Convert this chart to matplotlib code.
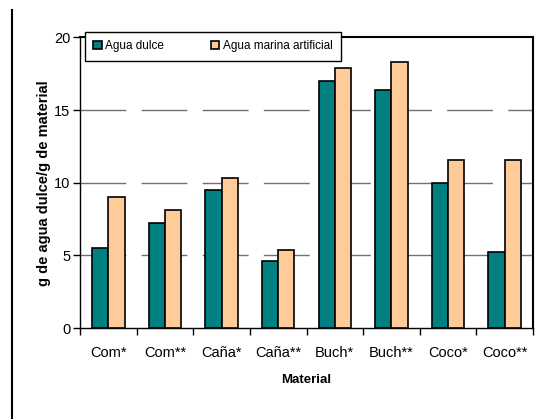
import numpy as np
import matplotlib.pyplot as plt
from matplotlib.lines import Line2D

# data
materials = ["Com*", "Com**", "Caña*", "Caña**", "Buch*", "Buch**", "Coco*", "Coco**"]
agua_dulce = [5.5, 7.2, 9.5, 4.6, 17.0, 16.4, 10.0, 5.2]
agua_marina = [9.0, 8.1, 10.3, 5.4, 17.9, 18.3, 11.55, 11.6]
series_names = ["Agua dulce", "Agua marina artificial"]
y_ticks = [0, 5, 10, 15, 20]

fonts = ['Liberation Sans Narrow', 'Liberation Sans', 'DejaVu Sans']
plt.rcParams['font.family'] = fonts

fig = plt.figure(figsize=(5.42, 4.19), dpi=100)
ax = fig.add_axes([80 / 542, 91 / 419, 453 / 542, 290.5 / 419])

x = np.arange(len(materials))
w = 0.288
ax.bar(x - w / 2, agua_dulce, w, color='#008080', edgecolor='black', linewidth=1.2,
       label=series_names[0], zorder=3)
ax.bar(x + w / 2, agua_marina, w, color='#FFCC99', edgecolor='black', linewidth=1.2,
       label=series_names[1], zorder=3)

ax.set_xlim(-0.5, len(materials) - 0.5)
ax.set_ylim(0, 20)
ax.set_yticks(y_ticks)
ax.set_yticklabels([str(t) for t in y_ticks], fontsize=10.5)
ax.set_xticks(x)
ax.set_xticklabels(materials, fontsize=10.5)
ax.tick_params(axis='x', length=0, pad=13)
ax.set_xticks(np.arange(len(materials) + 1) - 0.5, minor=True)
ax.tick_params(axis='x', which='minor', length=5, width=1, direction='out')
ax.tick_params(axis='y', length=5, width=1, direction='out', pad=2)

for v in y_ticks[1:-1]:
    ax.axhline(v, color='#707070', linewidth=1, dashes=(33, 11), zorder=1)

for s in ax.spines.values():
    s.set_color('black')
    s.set_linewidth(1)
ax.spines['top'].set_linewidth(1.5)
ax.spines['right'].set_linewidth(1.5)

ax.set_ylabel("g de agua dulce/g de material", fontsize=10.5, fontweight='bold', labelpad=2)
ax.set_xlabel("Material", fontsize=9.5, fontweight='bold', labelpad=10)

leg = ax.legend(loc='upper left', bbox_to_anchor=(85 / 542, 1 - 32 / 419),
                bbox_transform=fig.transFigure, ncol=2, fontsize=8.5,
                fancybox=False, edgecolor='black', framealpha=1, borderaxespad=0,
                handlelength=0.7, handleheight=0.7, handletextpad=0.3,
                columnspacing=4, borderpad=0.7)
leg.get_frame().set_linewidth(1)

# border line at the left of the page
fig.add_artist(Line2D([12 / 542, 12 / 542], [0, 1 - 10 / 419], transform=fig.transFigure,
                      color='black', linewidth=1.5))

fig.savefig("out.png", dpi=100)
